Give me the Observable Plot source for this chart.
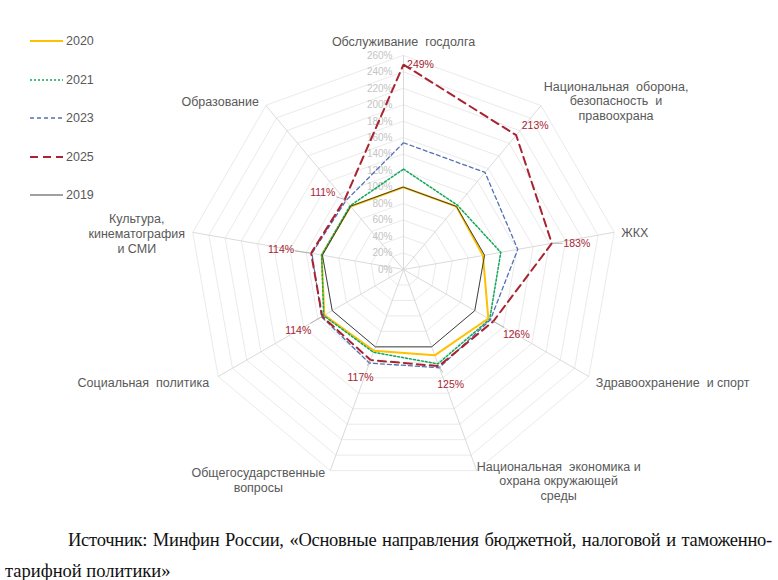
<!DOCTYPE html>
<html><head><meta charset="utf-8">
<script src="https://cdn.jsdelivr.net/npm/d3@7"></script>
<script src="https://cdn.jsdelivr.net/npm/@observablehq/plot@0.6"></script>
<style>
html,body{margin:0;padding:0;background:#fff;}
#page{position:relative;width:778px;height:580px;font-family:"Liberation Sans",Arial,sans-serif;}
#chart{position:absolute;left:0;top:0;}
#legend{position:absolute;left:30px;top:22px;}
.li{display:flex;align-items:center;height:38.5px;font-size:12.5px;color:#595959;}
.li svg{display:block;margin-right:2px;}
.cap{position:absolute;font-family:"Liberation Serif","Times New Roman",serif;font-size:18.5px;color:#111;line-height:24px;white-space:nowrap;}
#l1{left:68px;top:528px;width:704px;text-align:justify;text-align-last:justify;letter-spacing:-0.25px;}
#l2{left:5px;top:559px;}
</style></head>
<body>
<div id="page">
  <div id="chart"></div>
  <div id="legend"></div>
  <div class="cap" id="l1">Источник: Минфин России, «Основные направления бюджетной, налоговой и таможенно-</div>
  <div class="cap" id="l2">тарифной политики»</div>
</div>
<script>
// ---- data ----
const categories = [
  "Обслуживание госдолга",
  "Национальная оборона, безопасность и правоохрана",
  "ЖКХ",
  "Здравоохранение и спорт",
  "Национальная экономика и охрана окружающей среды",
  "Общегосударственные вопросы",
  "Социальная политика",
  "Культура, кинематография и СМИ",
  "Образование"
];
const categoryLabels = [
  "Обслуживание  госдолга",
  "Национальная  оборона,\nбезопасность  и\nправоохрана",
  "ЖКХ",
  "Здравоохранение  и спорт",
  "Национальная  экономика и\nохрана окружающей\nсреды",
  "Общегосударственные\nвопросы",
  "Социальная  политика",
  "Культура,\nкинематография\nи СМИ",
  "Образование"
];
const tickLevels = [0,20,40,60,80,100,120,140,160,180,200,220,240,260];
const seriesNames = ["2020","2021","2023","2025","2019"];
const v2020 = [100,100,98,119,111,105,111,101,100];
const v2021 = [122,102,120,121,122,107,112,101,101];
const v2023 = [154,154,141,122,127,121,115,113,109];
const v2025 = [249,213,183,126,125,117,114,114,111];
const v2019 = [100,100,100,100,100,100,100,100,100];
const labels2025 = ["249%","213%","183%","126%","125%","117%","114%","114%","111%"];

// ---- styles / layout ----
const seriesValues = [v2020, v2021, v2023, v2025, v2019];
const seriesStyle = [
  {stroke:"#FFC000", width:2,   dash:null},
  {stroke:"#10a858", width:1.5, dash:"2,2"},
  {stroke:"#5470b0", width:1.3, dash:"4,3"},
  {stroke:"#a82430", width:2,   dash:"8,5"},
  {stroke:"#404040", width:1,   dash:null}
];
const MAXV = 260, R = 214, CX = 403, CY = 269;
const k = R / MAXV;
const N = categories.length;
const ang = i => i * 2 * Math.PI / N;
const px = (v, i) => v * Math.sin(ang(i));
const py = (v, i) => v * Math.cos(ang(i));

const catLayout = [
  {anchor:"middle", dx:0,   dy:-14},
  {anchor:"middle", dx:75,  dy:-5},
  {anchor:"start",  dx:7,   dy:0},
  {anchor:"start",  dx:7,   dy:6},
  {anchor:"middle", dx:82,  dy:10},
  {anchor:"middle", dx:-72, dy:9},
  {anchor:"end",    dx:-9,  dy:6},
  {anchor:"middle", dx:-56, dy:1},
  {anchor:"end",    dx:-7,  dy:-4}
];
const lblOffset = [[17,0],[19,-10],[25,0],[23,13],[12,18],[-10,18],[-24,14],[-30,-4],[-22,-7]];
const hasLeader = [false,false,true,true,true,true,true,true,true];

const idx = categories.map((c, i) => i);
const gridData = tickLevels.slice(1).flatMap(l => idx.map(i => ({l, i})));

const marks = [
  Plot.line(gridData, {x: d => px(d.l, d.i), y: d => py(d.l, d.i), z: "l", curve: "linear-closed", stroke: "#e4e4e4", strokeWidth: 0.8}),
  Plot.link(idx, {x1: () => 0, y1: () => 0, x2: i => px(MAXV, i), y2: i => py(MAXV, i), stroke: "#d6d6d6", strokeWidth: 0.9}),
  Plot.text(tickLevels, {x: () => 0, y: l => l, text: l => l + "%", textAnchor: "end", dx: -11, fill: "#c4c4c4", fontSize: 10})
];
seriesValues.forEach((vals, s) => {
  const st = seriesStyle[s];
  marks.push(Plot.line(idx, {
    x: i => px(vals[i], i), y: i => py(vals[i], i), curve: "linear-closed",
    stroke: st.stroke, strokeWidth: st.width, strokeDasharray: st.dash, strokeLinejoin: "miter"
  }));
});
// leaders
const leaderIdx = idx.filter(i => hasLeader[i]);
marks.push(Plot.link(leaderIdx, {
  x1: i => px(v2025[i], i), y1: i => py(v2025[i], i),
  x2: i => { const [ox, oy] = lblOffset[i]; const f = 1 - 14 / Math.hypot(ox, oy); return px(v2025[i], i) + ox * f / k; },
  y2: i => { const [ox, oy] = lblOffset[i]; const f = 1 - 14 / Math.hypot(ox, oy); return py(v2025[i], i) - oy * f / k; },
  stroke: "#a6a6a6", strokeWidth: 0.8
}));
marks.push(Plot.text(idx, {
  x: i => px(v2025[i], i) + lblOffset[i][0] / k,
  y: i => py(v2025[i], i) - lblOffset[i][1] / k,
  text: i => labels2025[i], fill: "#a82430", fontSize: 10.5, textAnchor: "middle"
}));
idx.forEach(i => {
  const L = catLayout[i];
  marks.push(Plot.text([i], {
    x: j => px(MAXV, j), y: j => py(MAXV, j), text: j => categoryLabels[j],
    textAnchor: L.anchor, dx: L.dx, dy: L.dy, lineAnchor: "middle", lineHeight: 1.17,
    fontSize: 12.5, fill: "#595959"
  }));
});

const chart = Plot.plot({
  width: 778, height: 510,
  x: {type: "linear", domain: [-MAXV, MAXV], range: [CX - R, CX + R], axis: null},
  y: {type: "linear", domain: [-MAXV, MAXV], range: [CY + R, CY - R], axis: null},
  style: {fontFamily: "Liberation Sans, Arial, sans-serif", background: "white", overflow: "visible"},
  marks
});
document.getElementById("chart").appendChild(chart);

// legend
const leg = document.getElementById("legend");
seriesNames.forEach((name, s) => {
  const st = seriesStyle[s];
  const row = document.createElement("div");
  row.className = "li";
  row.innerHTML = `<svg width="34" height="10"><line x1="0" x2="33" y1="5" y2="5" stroke="${st.stroke}" stroke-width="${st.width}" ${st.dash ? `stroke-dasharray="${st.dash}"` : ""}/></svg><span>${name}</span>`;
  leg.appendChild(row);
});
</script>
</body></html>
